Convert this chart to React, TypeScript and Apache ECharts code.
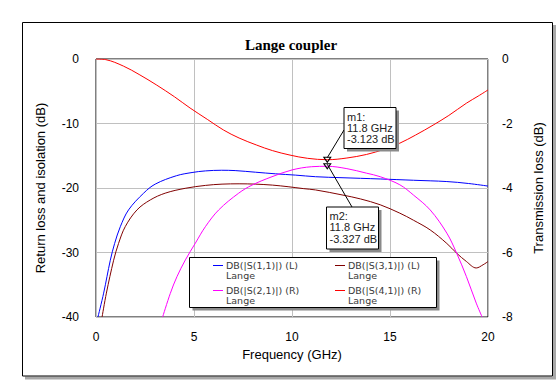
import React, { useEffect, useRef } from 'react';
import * as echarts from 'echarts';

const xTicks = { min: 0, max: 20, interval: 5 };
const leftTicks = { min: -40, max: 0, interval: 10 };
const rightTicks = { min: -8, max: 0, interval: 2 };

// DB(|S(1,1)|) (L)
const s11: number[][] = [
  [0.1, -40], [0.39, -36.3], [0.73, -31.2], [0.95, -28.6], [1.24, -26.0], [1.66, -23.4],
  [2.43, -20.8], [3.02, -19.4], [4.1, -18.1], [4.9, -17.6], [5.58, -17.35], [6.4, -17.25],
  [7.1, -17.3], [8.13, -17.55], [9.15, -17.8], [10.17, -18.0], [11.2, -18.25], [12.5, -18.4],
  [14.5, -18.6], [16.2, -18.8], [17.9, -19.0], [19, -19.3], [20, -19.7],
];
// DB(|S(3,1)|) (L)
const s31: number[][] = [
  [0.31, -40], [0.53, -36.3], [0.9, -31.2], [1.15, -28.6], [1.49, -26.0], [2.09, -23.4],
  [2.77, -21.85], [3.53, -20.8], [4.55, -20.05], [5.58, -19.6], [6.43, -19.4], [7.3, -19.35],
  [8.13, -19.4], [9.0, -19.55], [9.8, -19.8], [10.6, -20.1], [11.2, -20.3], [12.6, -21.1],
  [13.5, -21.7], [14.5, -22.6], [15.5, -23.9], [16.2, -25.0], [17.05, -26.5], [17.9, -28.6],
  [18.4, -30.1], [18.9, -31.4], [19.4, -32.4], [19.75, -31.9], [20, -31.4],
];
// DB(|S(2,1)|) (R)
const s21: number[][] = [
  [3.4, -8], [3.79, -7.27], [4.13, -6.75], [4.56, -6.23], [5.07, -5.71], [5.58, -5.2],
  [6.26, -4.68], [7.28, -4.16], [7.96, -3.91], [8.98, -3.65], [10.0, -3.44], [11.0, -3.34],
  [11.8, -3.327], [12.8, -3.4], [13.8, -3.54], [14.5, -3.65], [15.5, -3.9], [16.2, -4.22],
  [17.05, -4.68], [17.9, -5.4], [18.4, -6.02], [18.9, -6.75], [19.4, -7.57], [19.7, -8],
];
// DB(|S(4,1)|) (R)
const s41: number[][] = [
  [0, 0], [0.5, -0.02], [1.4, -0.22], [2.2, -0.48], [3.1, -0.81], [4.0, -1.17], [4.8, -1.52],
  [5.7, -1.88], [6.5, -2.2], [7.3, -2.45], [8.2, -2.67], [9.0, -2.84], [9.9, -2.98],
  [10.8, -3.08], [11.8, -3.123], [12.8, -3.07], [13.8, -2.96], [14.7, -2.8], [15.5, -2.61],
  [16.3, -2.36], [17.2, -2.05], [18.0, -1.75], [18.9, -1.37], [19.5, -1.15], [20, -0.96],
];

const m1 = { name: 'm1:', freq: 11.8, value: -3.123 };
const m2 = { name: 'm2:', freq: 11.8, value: -3.327 };

const legendItems = [
  { label: 'DB(|S(1,1)|) (L)', sub: 'Lange', color: '#0000ff' },
  { label: 'DB(|S(3,1)|) (L)', sub: 'Lange', color: '#800000' },
  { label: 'DB(|S(2,1)|) (R)', sub: 'Lange', color: '#ff00ff' },
  { label: 'DB(|S(4,1)|) (R)', sub: 'Lange', color: '#ff0000' },
];

const SANS = 'Liberation Sans, Arial, sans-serif';
const WIDE = 'DejaVu Sans, Verdana, sans-serif';

export default function App() {
  const ref = useRef<HTMLDivElement>(null);
  useEffect(() => {
    const chart = echarts.init(ref.current!, null, { renderer: 'svg' });
    const markerStyle = {
      symbol: 'triangle',
      symbolRotate: 180,
      symbolSize: [7, 5],
      itemStyle: { color: 'rgba(0,0,0,0)', borderColor: '#000', borderWidth: 1 },
      label: { show: false },
    };
    const mkLine = (name: string, data: number[][], color: string, yIdx: number, mk?: any) => ({
      name,
      type: 'line',
      data,
      yAxisIndex: yIdx,
      showSymbol: false,
      smooth: 0.35,
      smoothConstraint: false,
      clip: true,
      lineStyle: { color, width: 1 },
      itemStyle: { color },
      z: 3,
      markPoint: mk
        ? { ...markerStyle, data: [{ coord: [mk.freq, mk.value] }] }
        : undefined,
    });
    const axisLabelStyle = { color: '#000', fontSize: 12, fontFamily: SANS };
    const nameStyle = { color: '#000', fontSize: 13, fontFamily: SANS };
    chart.setOption({
      animation: false,
      backgroundColor: '#fff',
      title: {
        text: 'Lange coupler',
        left: 291,
        top: 37,
        textAlign: 'center',
        padding: 0,
        textStyle: { fontFamily: 'Liberation Serif, Times New Roman, serif', fontWeight: 'bold', fontSize: 15, color: '#000' },
      },
      grid: { left: 96, top: 59, width: 392, height: 258, show: true, borderColor: '#000', borderWidth: 1, backgroundColor: 'transparent' },
      xAxis: {
        type: 'value',
        ...xTicks,
        axisLine: { show: false },
        axisTick: { show: false },
        splitLine: { show: true, lineStyle: { color: '#c0c0c0', width: 1 } },
        axisLabel: { ...axisLabelStyle, margin: 14 },
        name: 'Frequency (GHz)',
        nameLocation: 'middle',
        nameGap: 31,
        nameTextStyle: nameStyle,
      },
      yAxis: [
        {
          type: 'value',
          position: 'left',
          ...leftTicks,
          axisLine: { show: false },
          axisTick: { show: false },
          splitLine: { show: true, lineStyle: { color: '#c0c0c0', width: 1 } },
          axisLabel: { ...axisLabelStyle, margin: 17 },
          name: 'Return loss and isolation (dB)',
          nameLocation: 'middle',
          nameRotate: 90,
          nameGap: 49,
          nameTextStyle: nameStyle,
        },
        {
          type: 'value',
          position: 'right',
          ...rightTicks,
          axisLine: { show: false },
          axisTick: { show: false },
          splitLine: { show: false },
          axisLabel: { ...axisLabelStyle, margin: 14 },
          name: 'Transmission loss (dB)',
          nameLocation: 'middle',
          nameRotate: 90,
          nameGap: 44,
          nameTextStyle: nameStyle,
        },
      ],
      series: [
        mkLine(legendItems[0].label, s11, legendItems[0].color, 0),
        mkLine(legendItems[1].label, s31, legendItems[1].color, 0),
        mkLine(legendItems[2].label, s21, legendItems[2].color, 1, m2),
        mkLine(legendItems[3].label, s41, legendItems[3].color, 1, m1),
      ],
    });

    const p1 = chart.convertToPixel({ seriesIndex: 3 }, [m1.freq, m1.value]) as number[];
    const p2 = chart.convertToPixel({ seriesIndex: 2 }, [m2.freq, m2.value]) as number[];

    const graphics: any[] = [];
    // outer frame with shadow
    graphics.push({ type: 'rect', shape: { x: 25, y: 376.5, width: 531, height: 3 }, style: { fill: '#a8a8a8' }, silent: true });
    graphics.push({ type: 'rect', shape: { x: 553, y: 25, width: 3, height: 354 }, style: { fill: '#a8a8a8' }, silent: true });
    graphics.push({ type: 'rect', shape: { x: 22.5, y: 22.5, width: 530, height: 353.5 }, style: { fill: 'none', stroke: '#000', lineWidth: 1 }, silent: true });

    const box = (x: number, y: number, w: number, h: number, z = 10) => [
      { type: 'rect', z, shape: { x: x + 3, y: y + 3, width: w, height: h }, style: { fill: '#8a8a8a' } },
      { type: 'rect', z: z + 1, shape: { x, y, width: w, height: h }, style: { fill: '#fff', stroke: '#000', lineWidth: 1 } },
    ];

    // legend
    graphics.push(...box(189.5, 257.5, 247, 50));
    const cols = [{ lx: 213, tx: 226 }, { lx: 335, tx: 348 }];
    const rows = [265, 290];
    const order = [[0, 0], [1, 0], [0, 1], [1, 1]];
    legendItems.forEach((it, i) => {
      const [c, r] = order[i];
      const col = cols[c];
      const y = rows[r];
      graphics.push({ type: 'line', z: 12, shape: { x1: col.lx, y1: y + 0.5, x2: col.lx + 10, y2: y + 0.5 }, style: { stroke: it.color, lineWidth: 1 } });
      graphics.push({ type: 'text', z: 12, x: col.tx, y, style: { text: it.label, fill: '#3a3a3a', font: `9.5px ${WIDE}`, textVerticalAlign: 'middle', verticalAlign: 'middle' } });
      graphics.push({ type: 'text', z: 12, x: col.tx, y: y + 10, style: { text: it.sub, fill: '#3a3a3a', font: `9.5px ${WIDE}`, textVerticalAlign: 'middle', verticalAlign: 'middle' } });
    });

    // marker boxes
    const mBoxes = [
      { m: m1, p: p1, x: 344, y: 107.5, w: 52, h: 41, ax: 344, ay: 130 },
      { m: m2, p: p2, x: 326.5, y: 207, w: 52, h: 42, ax: 352, ay: 207 },
    ];
    mBoxes.forEach((b) => {
      graphics.push({ type: 'line', z: 9, shape: { x1: b.p[0], y1: b.p[1] - 2, x2: b.ax, y2: b.ay }, style: { stroke: '#000', lineWidth: 1 } });
      graphics.push(...box(b.x, b.y, b.w, b.h, 13));
      const lines = [b.m.name, `${b.m.freq} GHz`, `${b.m.value.toFixed(3)} dB`];
      lines.forEach((t, k) => {
        graphics.push({ type: 'text', z: 15, x: b.x + 3, y: b.y + 9 + k * 11.3, style: { text: t, fill: '#222', font: `11px ${SANS}`, textVerticalAlign: 'middle', verticalAlign: 'middle' } });
      });
    });

    chart.setOption({ graphic: graphics });
    return () => chart.dispose();
  }, []);
  return <div ref={ref} style={{ position: 'absolute', left: 0, top: 0, width: 556, height: 380 }} />;
}
